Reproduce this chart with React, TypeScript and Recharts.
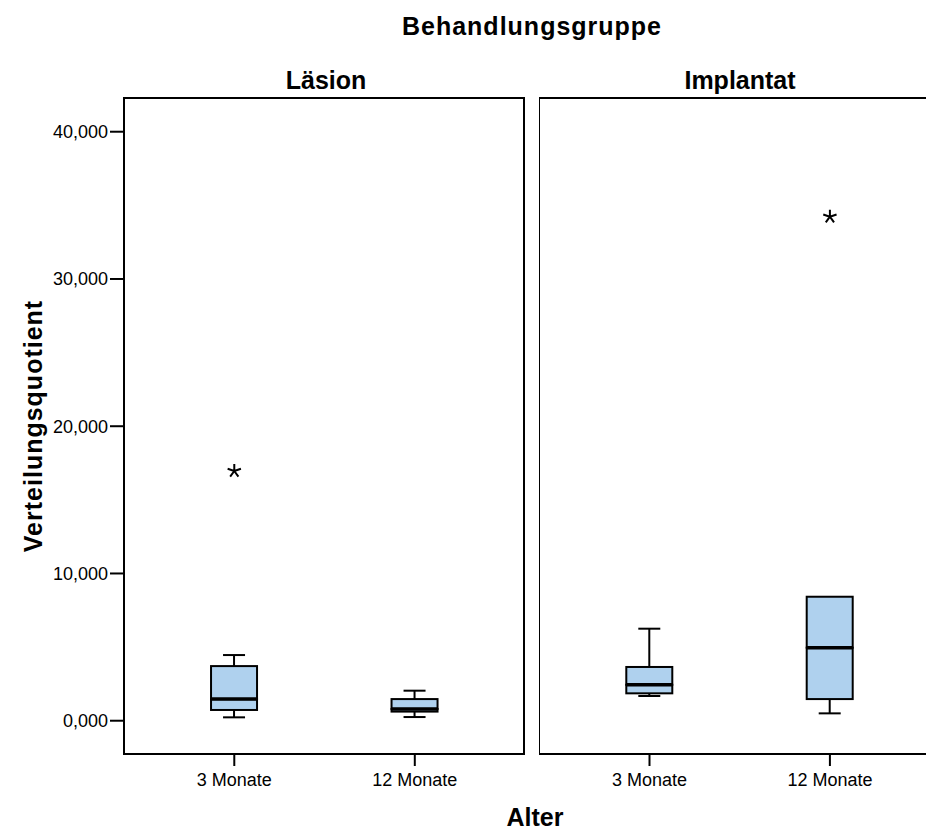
import React from 'react';
import { ComposedChart, Bar, Line, XAxis, YAxis, ReferenceArea } from 'recharts';

const FONT = '"Liberation Sans", Arial, Helvetica, sans-serif';
const BOX_FILL = '#afd1ee';

const categories = ['3 Monate', '12 Monate'];
const xPositions = [1, 2];
const yTicks = [0, 10, 20, 30, 40];
const yDomain = [-2.26, 42.29];
const leftXDomain = [0.389, 2.605];
// right panel runs past the page edge, its right frame is not visible
const rightXDomain = [0.3875, 2.71];

// Läsion
const lasionMin = [0.23, 0.25];
const lasionQ1 = [0.73, 0.62];
const lasionMedian = [1.47, 0.8];
const lasionQ3 = [3.71, 1.47];
const lasionMax = [4.46, 2.04];
const lasionOutliers = [16.96, null];

// Implantat
const implantatMin = [1.68, 0.5];
const implantatQ1 = [1.86, 1.47];
const implantatMedian = [2.44, 4.96];
const implantatQ3 = [3.65, 8.42];
const implantatMax = [6.25, 8.42];
const implantatOutliers = [null, 34.23];

const buildRows = (
  min: number[], q1: number[], med: number[], q3: number[], max: number[], out: (number | null)[]
) =>
  categories.map((name, i) => ({
    name,
    pos: xPositions[i],
    base: min[i],
    lowWhisker: q1[i] - min[i],
    lowBox: med[i] - q1[i],
    highBox: q3[i] - med[i],
    highWhisker: max[i] - q3[i],
    outlier: out[i],
  }));

const lasionRows = buildRows(lasionMin, lasionQ1, lasionMedian, lasionQ3, lasionMax, lasionOutliers);
const implantatRows = buildRows(implantatMin, implantatQ1, implantatMedian, implantatQ3, implantatMax, implantatOutliers);

const fmt = (v: number) => v.toFixed(3).replace('.', ',');
const catLabel = (v: number) => categories[xPositions.indexOf(v)] ?? '';

const CAP = 11;

const LowWhisker = (p: any) => {
  if (!p.height || p.height < 0.5) return <g />;
  const cx = p.x + p.width / 2;
  const yb = p.y + p.height;
  return (
    <g>
      <line x1={cx} x2={cx} y1={p.y} y2={yb} stroke="#000" strokeWidth={2} />
      <line x1={cx - CAP} x2={cx + CAP} y1={yb} y2={yb} stroke="#000" strokeWidth={2} />
    </g>
  );
};

const HighWhisker = (p: any) => {
  if (!p.height || p.height < 0.5) return <g />;
  const cx = p.x + p.width / 2;
  return (
    <g>
      <line x1={cx} x2={cx} y1={p.y} y2={p.y + p.height} stroke="#000" strokeWidth={2} />
      <line x1={cx - CAP} x2={cx + CAP} y1={p.y} y2={p.y} stroke="#000" strokeWidth={2} />
    </g>
  );
};

const LowBox = (p: any) => (
  <rect x={p.x} y={p.y} width={p.width} height={Math.max(p.height, 0)} fill={BOX_FILL} stroke="#000" strokeWidth={2} />
);

const HighBox = (p: any) => {
  const yb = p.y + p.height;
  return (
    <g>
      <rect x={p.x} y={p.y} width={p.width} height={Math.max(p.height, 0)} fill={BOX_FILL} stroke="#000" strokeWidth={2} />
      <line x1={p.x} x2={p.x + p.width} y1={yb} y2={yb} stroke="#000" strokeWidth={3.5} />
    </g>
  );
};

const Star = (p: any) => {
  const key = `star-${p.index}`;
  if (p.value == null || p.cy == null || isNaN(p.cy)) return <g key={key} />;
  const r = 7;
  const d = [0, 1, 2, 3, 4]
    .map((k) => {
      const a = ((-90 + k * 72) * Math.PI) / 180;
      return `M${p.cx},${p.cy} L${p.cx + r * Math.cos(a)},${p.cy + r * Math.sin(a)}`;
    })
    .join(' ');
  return <path key={key} d={d} stroke="#000" strokeWidth={2} fill="none" />;
};

const Panel = ({
  rows, showTicks, left, width, xDomain,
}: { rows: any[]; showTicks: boolean; left: number; width: number; xDomain: number[] }) => (
  <div style={{ position: 'absolute', left, top: 0 }}>
    <ComposedChart
      width={width}
      height={832}
      data={rows}
      margin={{ top: 98, right: 1, bottom: 38, left: 0 }}
    >
      <XAxis
        dataKey="pos"
        type="number"
        domain={xDomain}
        ticks={xPositions}
        tickFormatter={catLabel}
        allowDataOverflow
        height={40}
        axisLine={{ stroke: '#000', strokeWidth: 2 }}
        tickLine={{ stroke: '#000', strokeWidth: 2 }}
        tickSize={12}
        tickMargin={7}
        tick={{ fill: '#000', fontSize: 18, fontFamily: FONT }}
      />
      <YAxis
        type="number"
        domain={yDomain}
        ticks={yTicks}
        allowDataOverflow
        width={showTicks ? 124 : 0}
        tick={showTicks ? { fill: '#000', fontSize: 18, fontFamily: FONT } : false}
        tickFormatter={fmt}
        tickLine={showTicks ? { stroke: '#000', strokeWidth: 2 } : false}
        tickSize={14}
        tickMargin={2}
        axisLine={{ stroke: '#000', strokeWidth: 2 }}
      />
      {/* panel frame */}
      <ReferenceArea
        x1={xDomain[0]}
        x2={xDomain[1]}
        y1={yDomain[0]}
        y2={yDomain[1]}
        fill="none"
        stroke="#000"
        strokeWidth={2}
        ifOverflow="visible"
      />
      <Bar dataKey="base" stackId="box" barSize={46} fill="none" shape={() => <g />} isAnimationActive={false} />
      <Bar dataKey="lowWhisker" stackId="box" barSize={46} shape={LowWhisker} isAnimationActive={false} />
      <Bar dataKey="lowBox" stackId="box" barSize={46} shape={LowBox} isAnimationActive={false} />
      <Bar dataKey="highBox" stackId="box" barSize={46} shape={HighBox} isAnimationActive={false} />
      <Bar dataKey="highWhisker" stackId="box" barSize={46} shape={HighWhisker} isAnimationActive={false} />
      <Line dataKey="outlier" stroke="none" dot={Star} activeDot={false} isAnimationActive={false} />
    </ComposedChart>
  </div>
);

export default function App() {
  return (
    <div
      style={{
        position: 'absolute',
        left: 0,
        top: 0,
        width: 926,
        height: 832,
        overflow: 'hidden',
        background: '#fff',
        fontFamily: FONT,
      }}
    >
      <Panel rows={lasionRows} showTicks={true} left={0} width={525} xDomain={leftXDomain} />
      <Panel rows={implantatRows} showTicks={false} left={539} width={420} xDomain={rightXDomain} />
      <svg width={926} height={832} style={{ position: 'absolute', left: 0, top: 0, pointerEvents: 'none' }}>
        <g fontFamily={FONT} fontWeight="bold" fill="#000">
          <text x={532} y={35} fontSize={25} letterSpacing={1} textAnchor="middle">Behandlungsgruppe</text>
          <text x={326} y={89} fontSize={25} textAnchor="middle">Läsion</text>
          <text x={740} y={89} fontSize={25} textAnchor="middle">Implantat</text>
          <text x={535} y={826} fontSize={25} textAnchor="middle">Alter</text>
          <text x={42} y={426} fontSize={25} letterSpacing={1} textAnchor="middle" transform="rotate(-90, 42, 426)">
            Verteilungsquotient
          </text>
        </g>
      </svg>
    </div>
  );
}
